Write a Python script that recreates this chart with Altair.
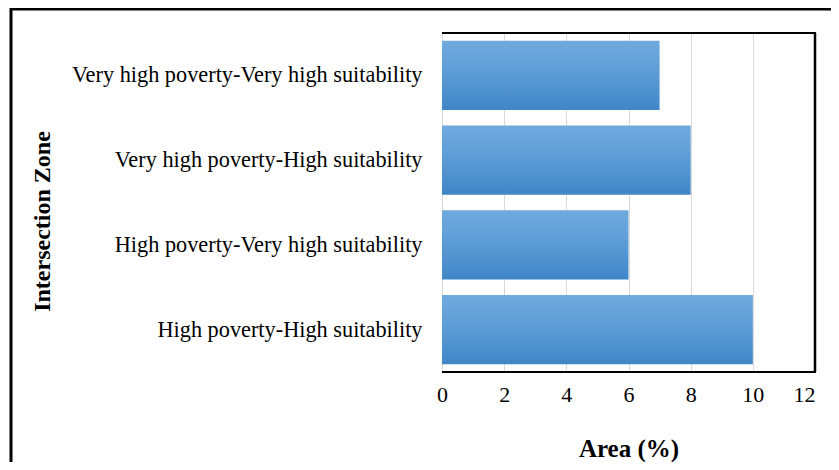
import altair as alt
import pandas as pd

zones = [
    "Very high poverty-Very high suitability",
    "Very high poverty-High suitability",
    "High poverty-Very high suitability",
    "High poverty-High suitability",
]
area = [7, 8, 6, 10]
x_ticks = [0, 2, 4, 6, 8, 10, 12]

df = pd.DataFrame({"zone": zones, "area": area})
one = pd.DataFrame({"k": [0]})

W, H = 373, 339
PAD = {"left": 434, "top": 25, "right": 16, "bottom": 90}
FONT = "Liberation Serif"

grad = alt.LinearGradient(
    gradient="linear",
    stops=[
        alt.GradientStop(color="#70aadf", offset=0),
        alt.GradientStop(color="#5b9bd5", offset=0.5),
        alt.GradientStop(color="#3f86c7", offset=1),
    ],
    x1=0, x2=0, y1=0, y2=1,
)

bars = alt.Chart(df).mark_bar(color=grad).encode(
    x=alt.X(
        "area:Q",
        scale=alt.Scale(domain=[0, 12], nice=False),
        axis=alt.Axis(
            values=x_ticks, title="Area (%)", grid=True, gridColor="#d9d9d9",
            gridWidth=1, ticks=False, domain=False,
            labelFont=FONT, labelFontSize=22, labelPadding=12, labelColor="black",
            labelAlign=alt.ExprRef(expr="datum.value == 12 ? 'right' : 'center'"),
            titleFont=FONT, titleFontSize=25, titleFontWeight="bold", titleColor="black",
            titleY=76, titleBaseline="middle",
        ),
    ),
    y=alt.Y(
        "zone:N", sort=zones,
        scale=alt.Scale(paddingInner=0.18, paddingOuter=0.09),
        axis=alt.Axis(
            title="Intersection Zone", ticks=False, domain=True,
            domainColor="#d9d9d9", labelFont=FONT, labelFontSize=22.3,
            labelPadding=20, labelLimit=500, labelColor="black",
            titleFont=FONT, titleFontSize=24, titleFontWeight="bold", titleColor="black",
            titleX=-400, titleY=188, titleAlign="center", titleBaseline="middle",
        ),
    ),
)

top = alt.Chart(one).mark_rule(color="black", strokeWidth=2).encode(
    x=alt.value(0), x2=alt.value(W + 1), y=alt.value(0))
right = alt.Chart(one).mark_rule(color="black", strokeWidth=2.5).encode(
    x=alt.value(W), y=alt.value(0), y2=alt.value(H))
bottom = alt.Chart(one).mark_rule(color="black", strokeWidth=2).encode(
    x=alt.value(0), x2=alt.value(W + 1), y=alt.value(H))

frame_left = alt.Chart(one).mark_rule(color="black", strokeWidth=3).encode(
    x=alt.value(-431), y=alt.value(-25), y2=alt.value(H + PAD["bottom"]))
frame_top = alt.Chart(one).mark_rule(color="black", strokeWidth=3).encode(
    x=alt.value(-432), x2=alt.value(W + PAD["right"]), y=alt.value(-24))

chart = alt.layer(bars, top, right, bottom, frame_left, frame_top).properties(
    width=W, height=H, padding=PAD,
    autosize=alt.AutoSizeParams(type="none"),
).configure_view(stroke=None)

chart.save("out.html", embed_options={"renderer": "svg", "actions": False})
